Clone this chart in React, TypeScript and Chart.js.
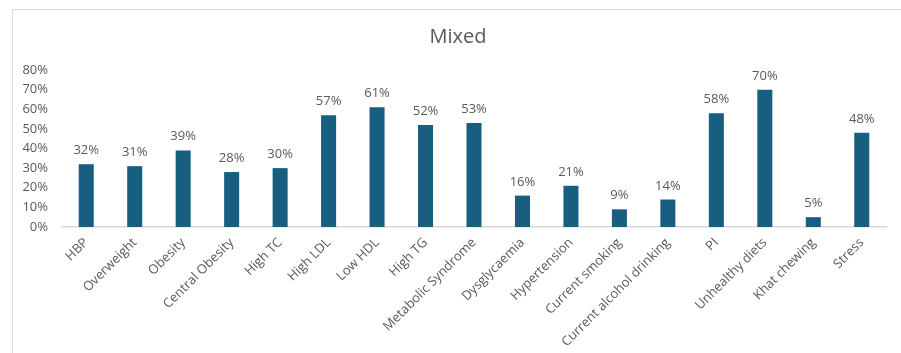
import React, { useEffect, useRef } from "react";
import { Chart, registerables } from "chart.js";

Chart.register(...registerables);

const TITLE = "Mixed";
const CATEGORIES = [
  "HBP",
  "Overweight",
  "Obesity",
  "Central Obesity",
  "High TC",
  "High LDL",
  "Low HDL",
  "High TG",
  "Metabolic Syndrome",
  "Dysglycaemia",
  "Hypertension",
  "Current smoking",
  "Current alcohol drinking",
  "PI",
  "Unhealthy diets",
  "Khat chewing",
  "Stress",
];
const VALUES = [32, 31, 39, 28, 30, 57, 61, 52, 53, 16, 21, 9, 14, 58, 70, 5, 48];
const Y_MAX = 80;
const Y_STEP = 10;

const FONT = "'Open Sans', 'DejaVu Sans', sans-serif";
const TEXT_COLOR = "#595959";
const BAR_COLOR = "#175E81";
const LINE_COLOR = "#D9D9D9";

const framePlugin = {
  id: "frame",
  beforeDraw(chart: any) {
    const ctx = chart.ctx;
    ctx.save();
    ctx.fillStyle = "#ffffff";
    ctx.fillRect(0, 0, chart.width, chart.height);
    ctx.strokeStyle = LINE_COLOR;
    ctx.lineWidth = 1;
    ctx.beginPath();
    ctx.moveTo(12.5, chart.height);
    ctx.lineTo(12.5, 9.5);
    ctx.lineTo(chart.width, 9.5);
    ctx.stroke();
    ctx.fillStyle = TEXT_COLOR;
    ctx.font = `20px ${FONT}`;
    ctx.textAlign = "center";
    ctx.textBaseline = "alphabetic";
    ctx.fillText(TITLE, 458, 43);
    ctx.restore();
  },
};

const valueLabelPlugin = {
  id: "valueLabels",
  afterDatasetsDraw(chart: any) {
    const ctx = chart.ctx;
    const meta = chart.getDatasetMeta(0);
    ctx.save();
    ctx.fillStyle = TEXT_COLOR;
    ctx.font = `13px ${FONT}`;
    ctx.textAlign = "center";
    ctx.textBaseline = "alphabetic";
    meta.data.forEach((bar: any, i: number) => {
      ctx.fillText(`${VALUES[i]}%`, bar.x, bar.y - 10);
    });
    ctx.restore();
  },
};

export default function App() {
  const ref = useRef<HTMLCanvasElement>(null);

  useEffect(() => {
    if (!ref.current) return;
    const chart = new Chart(ref.current, {
      type: "bar",
      data: {
        labels: CATEGORIES,
        datasets: [
          {
            label: TITLE,
            data: VALUES,
            backgroundColor: BAR_COLOR,
            barPercentage: 0.31,
            categoryPercentage: 1,
          },
        ],
      },
      options: {
        animation: false,
        responsive: false,
        devicePixelRatio: 1,
        layout: { padding: { top: 70, left: 0, right: 15, bottom: 0 } },
        plugins: {
          legend: { display: false },
          title: { display: false },
          tooltip: { enabled: false },
        },
        scales: {
          x: {
            grid: { display: false, drawTicks: false },
            border: { display: true, color: LINE_COLOR, width: 1.5 },
            ticks: {
              autoSkip: false,
              minRotation: 45,
              maxRotation: 45,
              padding: 8,
              color: TEXT_COLOR,
              font: { family: FONT, size: 13 },
            },
            afterFit(scale: any) {
              scale.height = 126;
            },
          },
          y: {
            min: 0,
            max: Y_MAX,
            grid: { display: false, drawTicks: false },
            border: { display: false },
            ticks: {
              stepSize: Y_STEP,
              padding: 14,
              color: TEXT_COLOR,
              font: { family: FONT, size: 13 },
              callback: (v: any) => `${v}%`,
            },
            afterFit(scale: any) {
              scale.width = 62;
            },
          },
        },
      },
      plugins: [framePlugin, valueLabelPlugin],
    });
    return () => chart.destroy();
  }, []);

  return (
    <div style={{ position: "fixed", left: 0, top: 0, width: 901, height: 353 }}>
      <canvas ref={ref} width={901} height={353} style={{ display: "block" }} />
    </div>
  );
}
